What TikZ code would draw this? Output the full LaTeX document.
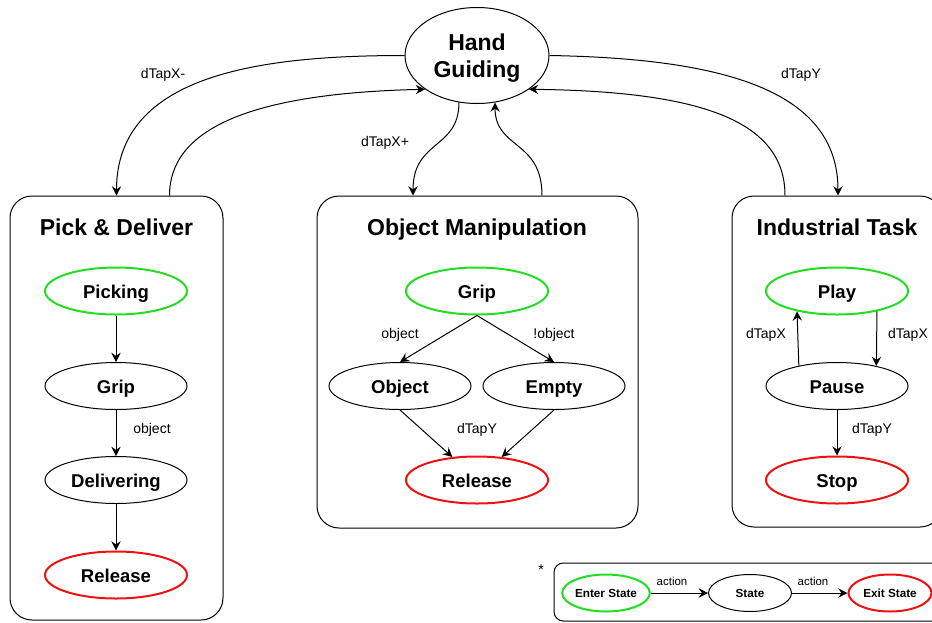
\documentclass[tikz,border=0pt]{standalone}
\usepackage{fontspec}
\setmainfont{Liberation Sans}
\usetikzlibrary{shapes.geometric,arrows.meta}
\definecolor{entergreen}{HTML}{22DD22}
\definecolor{exitred}{HTML}{EE1111}
\begin{document}
\begin{tikzpicture}[x=0.75pt,y=-0.75pt,
  fsm/.style={ellipse, draw, line width=0.75pt, inner sep=0pt,
    minimum width=106.5pt, minimum height=35.25pt,
    font=\fontsize{13.9}{16}\selectfont\bfseries, text height=10.5pt, text depth=0pt},
  fsmin/.style={fsm, draw=entergreen, line width=1.5pt},
  fsmout/.style={fsm, draw=exitred, line width=1.5pt},
  minifsm/.style={fsm, minimum width=62.25pt, minimum height=27.75pt,
    font=\fontsize{8.8}{10}\selectfont\bfseries, text height=6.6pt},
  panel/.style={draw, line width=0.75pt, rounded corners=16.5pt, inner sep=0pt},
  paneltitle/.style={font=\fontsize{17.25}{20}\selectfont\bfseries, text height=12.4pt, text depth=0pt, inner sep=0pt},
  lbl/.style={font=\fontsize{10.5}{12}\selectfont, text height=7.6pt, text depth=0pt, inner sep=0pt},
  minilbl/.style={font=\fontsize{8.6}{10}\selectfont, text height=6.2pt, text depth=0pt, inner sep=0pt},
  flow/.style={line width=0.75pt, -{Stealth[length=7pt,width=7pt,inset=2.5pt]}}]
\useasboundingbox (0,0) rectangle (932,622);

% group frames
\node[panel, minimum width=159.75pt, minimum height=318pt] (pd) at (116.5,408) {};
\node[panel, minimum width=240.75pt, minimum height=249pt] (om) at (477.5,362) {};
\node[panel, minimum width=157.5pt, minimum height=248.25pt] (it) at (837,361.5) {};
\node[panel, rounded corners=7pt, minimum width=293.25pt, minimum height=43.5pt] (leg) at (749.5,592) {};

\node[paneltitle] (pdt) at (116.5,227) {Pick \& Deliver};
\node[paneltitle] (omt) at (477,227) {Object Manipulation};
\node[paneltitle] (itt) at (837,227) {Industrial Task};

% central state (two lines: box spans from first cap line to last baseline)
\node[fsm, minimum width=108pt, minimum height=72pt, align=center,
  font=\fontsize{17.25}{20.25}\selectfont\bfseries, text height=32.65pt, text depth=0pt] (hg) at (477,55.5) {Hand\\Guiding};

% docking points on the frames
\path (pd.north) coordinate (pdA) ++(53,0) coordinate (pdB);
\path (om.north) ++(-64.5,0) coordinate (omA);
\path (om.north) ++(64.5,0) coordinate (omB);
\path (it.north) ++(1,0) coordinate (itA);
\path (it.north) ++(-52,0) coordinate (itB);

% transitions between modes
\draw[flow] (hg.west) .. controls +(-145,0) and +(0,-121) .. (pdA);
\draw[flow] (pdB) .. controls +(0,-66) and +(-176,4) .. (hg.213);
\draw[flow] (hg.249) .. controls +(0,47) and +(0,-56) .. (omA);
\draw[flow] (omB) .. controls +(0,-56) and +(0,47) .. (hg.291);
\draw[flow] (hg.east) .. controls +(172,3) and +(0,-106) .. (itA);
\draw[flow] (itB) .. controls +(0,-76) and +(169,2) .. (hg.327);
\node[lbl] (l1) at (163,73) {dTapX-};
\node[lbl] (l2) at (385,141) {dTapX+};
\node[lbl] (l3) at (801,73) {dTapY};

% Pick & Deliver
\node[fsmin] (pick) at (116,291) {Picking};
\node[fsm] (pgrip) at (116,386) {Grip};
\node[fsm] (deliv) at (116,480) {Delivering};
\node[fsmout] (prel) at (116,575) {Release};
\draw[flow] (pick) -- (pgrip);
\draw[flow] (pgrip) -- (deliv);
\draw[flow] (deliv) -- (prel);
\node[lbl] (l4) at (152,428) {object};

% Object Manipulation
\node[fsmin] (ogrip) at (477,291) {Grip};
\node[fsm] (oobj) at (400,386) {Object};
\node[fsm] (oemp) at (554,386) {Empty};
\node[fsmout] (orel) at (477,480) {Release};
\draw[flow] (ogrip.south) -- (oobj.north);
\draw[flow] (ogrip.south) -- (oemp.north);
\draw[flow] (oobj.south) -- (orel.137);
\draw[flow] (oemp.south) -- (orel.43);
\node[lbl] (l5) at (400,333) {object};
\node[lbl] (l6) at (554,333) {!object};
\node[lbl] (l7) at (477,428) {dTapY};

% Industrial Task
\node[fsmin] (play) at (837,291) {Play};
\node[fsm] (pause) at (837,386) {Pause};
\node[fsmout] (stop) at (837,480) {Stop};
\draw[flow] (pause.152.5) -- (play.207.5);
\draw[flow] (play.-27) -- (pause.27);
\draw[flow] (pause) -- (stop);
\node[lbl] (l8) at (766,333) {dTapX};
\node[lbl] (l9) at (908,333) {dTapX};
\node[lbl] (l10) at (872,428) {dTapY};

% legend
\node[lbl] (star) at (541,569) {*};
\node[minifsm, fsmin, minimum width=62.25pt, minimum height=27.75pt,
  font=\fontsize{8.8}{10}\selectfont\bfseries, text height=6.6pt] (kin) at (606,593) {Enter State};
\node[minifsm] (kst) at (750,593) {State};
\node[minifsm, fsmout, minimum width=62.25pt, minimum height=27.75pt,
  font=\fontsize{8.8}{10}\selectfont\bfseries, text height=6.6pt] (kout) at (890,593) {Exit State};
\draw[flow] (kin) -- (kst);
\draw[flow] (kst) -- (kout);
\node[minilbl] (l11) at (672,581) {action};
\node[minilbl] (l12) at (813,581) {action};
\end{tikzpicture}
\end{document}
